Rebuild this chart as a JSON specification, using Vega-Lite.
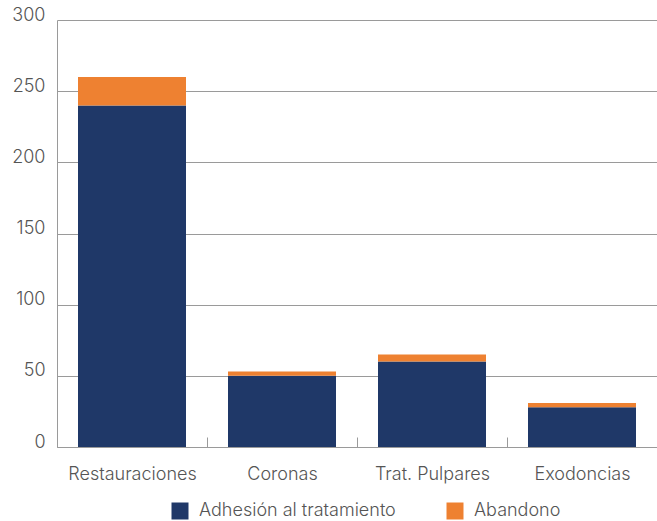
{
  "$schema": "https://vega.github.io/schema/vega-lite/v6.json",
  "width": 600,
  "height": 427,
  "autosize": {"type": "none"},
  "padding": {"left": 57, "top": 20, "right": 0, "bottom": 74},
  "background": "white",
  "config": {
    "view": {"stroke": null},
    "font": "Inter",
    "axis": {"labelFont": "Inter", "labelColor": "#555555", "labelFontSize": 18, "labelFontWeight": 300}
  },
  "data": {
    "values": [
      {"cat": "Restauraciones", "serie": "Adhesión al tratamiento", "ord": 1, "v": 240},
      {"cat": "Restauraciones", "serie": "Abandono", "ord": 2, "v": 20},
      {"cat": "Coronas", "serie": "Adhesión al tratamiento", "ord": 1, "v": 50},
      {"cat": "Coronas", "serie": "Abandono", "ord": 2, "v": 3},
      {"cat": "Trat. Pulpares", "serie": "Adhesión al tratamiento", "ord": 1, "v": 60},
      {"cat": "Trat. Pulpares", "serie": "Abandono", "ord": 2, "v": 5},
      {"cat": "Exodoncias", "serie": "Adhesión al tratamiento", "ord": 1, "v": 28},
      {"cat": "Exodoncias", "serie": "Abandono", "ord": 2, "v": 3}
    ]
  },
  "mark": {"type": "bar", "width": {"band": 0.72}},
  "encoding": {
    "x": {
      "field": "cat", "type": "nominal", "sort": null,
      "scale": {"paddingInner": 0, "paddingOuter": 0},
      "axis": {
        "title": null, "labelAngle": 0, "domainColor": "#9a9a9a", "domainWidth": 1,
        "ticks": true, "tickBand": "extent", "tickSize": -10, "tickColor": "#9a9a9a",
        "labelPadding": 28, "labelBaseline": "top"
      }
    },
    "y": {
      "field": "v", "type": "quantitative", "stack": "zero",
      "scale": {"domain": [0, 300], "nice": false},
      "axis": {
        "title": null, "values": [0, 50, 100, 150, 200, 250, 300],
        "grid": true, "gridColor": "#9a9a9a", "gridWidth": 1,
        "domain": true, "domainColor": "#9a9a9a",
        "ticks": false, "labelPadding": 12, "labelBaseline": "alphabetic", "labelFlush": false
      }
    },
    "order": {"field": "ord", "type": "quantitative"},
    "color": {
      "field": "serie", "type": "nominal",
      "scale": {"domain": ["Adhesión al tratamiento", "Abandono"], "range": ["#1f3868", "#ee8131"]},
      "legend": {
        "title": null, "orient": "none", "direction": "horizontal",
        "legendX": 114, "legendY": 482,
        "symbolType": "square", "symbolSize": 289, "symbolStrokeWidth": 0,
        "labelFont": "Inter", "labelFontSize": 18, "labelFontWeight": 300, "labelColor": "#555555",
        "labelOffset": 10, "columnPadding": 50, "labelLimit": 0
      }
    }
  }
}
